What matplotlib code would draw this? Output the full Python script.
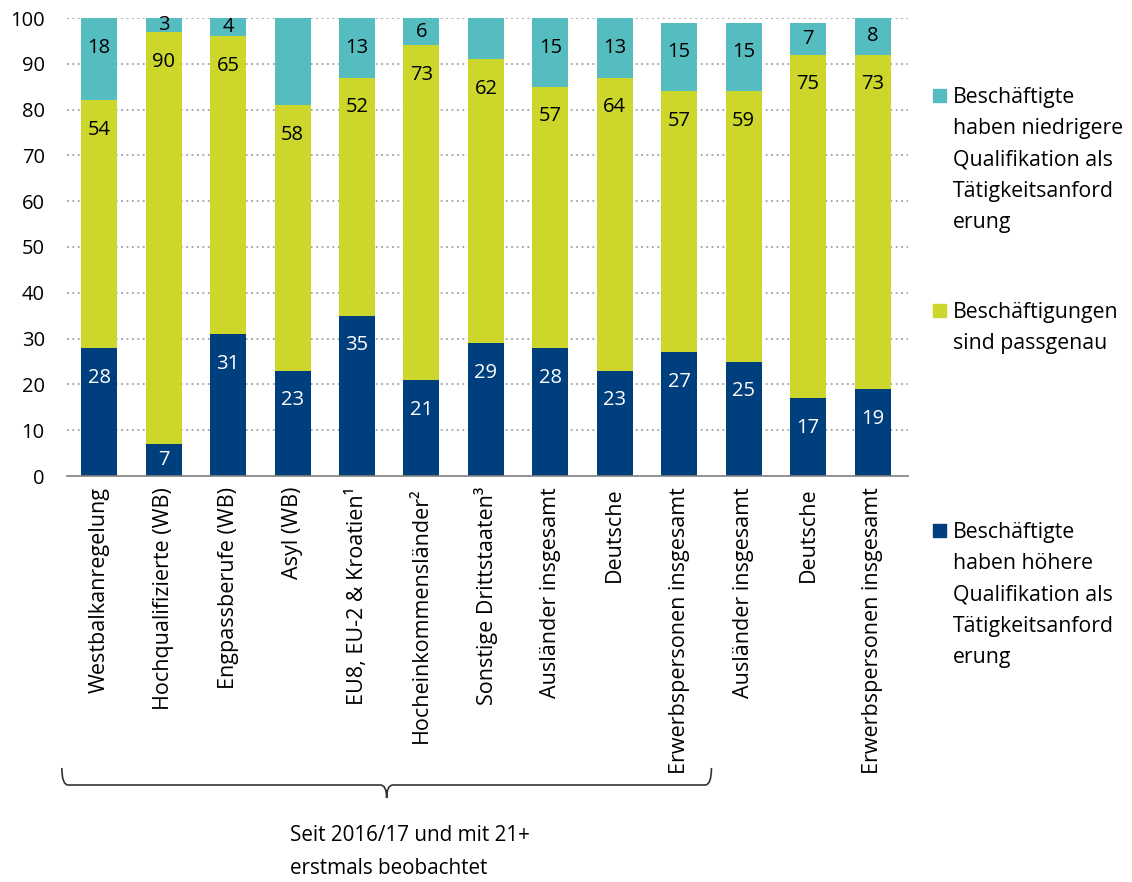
import matplotlib
matplotlib.use("Agg")
import matplotlib.pyplot as plt
from matplotlib.path import Path
from matplotlib.patches import PathPatch, Rectangle
from matplotlib.transforms import blended_transform_factory
import numpy as np

plt.rcParams['font.family'] = ['Open Sans', 'DejaVu Sans']

categories = ["Westbalkanregelung", "Hochqualifizierte (WB)", "Engpassberufe (WB)",
              "Asyl (WB)", "EU8, EU-2 & Kroatien¹", "Hocheinkommensländer²",
              "Sonstige Drittstaaten³", "Ausländer insgesamt", "Deutsche",
              "Erwerbspersonen insgesamt", "Ausländer insgesamt", "Deutsche",
              "Erwerbspersonen insgesamt"]
higher = [28, 7, 31, 23, 35, 21, 29, 28, 23, 27, 25, 17, 19]
match = [54, 90, 65, 58, 52, 73, 62, 57, 64, 57, 59, 75, 73]
lower = [18, 3, 4, 19, 13, 6, 9, 15, 13, 15, 15, 7, 8]
lower_labels = ["18", "3", "4", "", "13", "6", "", "15", "13", "15", "15", "7", "8"]
series_names = ["Beschäftigte\nhaben niedrigere\nQualifikation als\nTätigkeitsanford\nerung",
                "Beschäftigungen\nsind passgenau",
                "Beschäftigte\nhaben höhere\nQualifikation als\nTätigkeitsanford\nerung"]
brace_text = "Seit 2016/17 und mit 21+\nerstmals beobachtet"

c_high = "#003f7d"
c_match = "#cdd62b"
c_low = "#55bdc0"

fig = plt.figure(figsize=(11.32, 8.82), dpi=100)
ax = fig.add_axes([67/1132, 1-476/882, (908-67)/1132, (476-18)/882])

x = np.arange(len(categories))
w = 0.56
h = np.array(higher); m = np.array(match); l = np.array(lower)
ax.bar(x, h, w, color=c_high, zorder=3)
ax.bar(x, m, w, bottom=h, color=c_match, zorder=3)
ax.bar(x, l, w, bottom=h + m, color=c_low, zorder=3)

fs = 14.5
def lab(xi, bottom, val, txt, color):
    if not txt:
        return
    top = bottom + val
    y = max(top - 6.5, bottom + val / 2)
    ax.text(xi, y, txt, ha='center', va='center', fontsize=fs, color=color, zorder=4)

for i in range(len(x)):
    lab(x[i], 0, h[i], str(h[i]), 'white')
    lab(x[i], h[i], m[i], str(m[i]), 'black')
    lab(x[i], h[i] + m[i], l[i], lower_labels[i], 'black')

ax.set_xlim(-0.5, 12.55)
ax.set_ylim(0, 100)
ax.set_yticks(np.arange(0, 101, 10))
ax.yaxis.grid(True, color='#a0a0a0', linestyle=(0, (1, 2)), linewidth=1.3, zorder=0)
for s in ['left', 'right', 'top']:
    ax.spines[s].set_visible(False)
ax.spines['bottom'].set_color('#808080')
ax.spines['bottom'].set_linewidth(1.2)
ax.spines['bottom'].set_zorder(5)
ax.tick_params(axis='y', length=0, pad=16, labelsize=fs)
ax.tick_params(axis='x', length=0, pad=8, labelsize=15.5)
ax.set_xticks(x)
ax.set_xticklabels(categories, rotation=90, va='top', ha='center')

# brace
tr = blended_transform_factory(ax.transData, fig.transFigure)
xl, xr = -0.58, 9.5
xm = (xl + xr) / 2
yt, yh, yb = 1 - 768/882, 1 - 785/882, 1 - 798/882
d = 0.1
verts = [(xl, yt), (xl, yh), (xl + d, yh),
         (xm - d, yh), (xm, yh), (xm, yb),
         (xm, yh), (xm + d, yh),
         (xr - d, yh), (xr, yh), (xr, yt)]
codes = [Path.MOVETO, Path.CURVE3, Path.CURVE3,
         Path.LINETO, Path.CURVE3, Path.CURVE3,
         Path.CURVE3, Path.CURVE3,
         Path.LINETO, Path.CURVE3, Path.CURVE3]
ax.add_patch(PathPatch(Path(verts, codes), transform=tr, fill=False,
                       edgecolor='#333333', linewidth=1.2, clip_on=False))
fig.text(290/1132, 1 - 825/882, brace_text, ha='left', va='top', fontsize=14.9,
         linespacing=1.75)

# legend
leg_colors = [c_low, c_match, c_high]
leg_y = [95, 310, 530]
for name, col, yy in zip(series_names, leg_colors, leg_y):
    fig.patches.append(Rectangle((933/1132, 1 - (yy + 7)/882), 13/1132, 13/882,
                                 transform=fig.transFigure, color=col))
    fig.text(953/1132, 1 - (yy - 8)/882, name, ha='left', va='top', fontsize=15.3,
             linespacing=1.64)

fig.savefig("out.png", dpi=100)
